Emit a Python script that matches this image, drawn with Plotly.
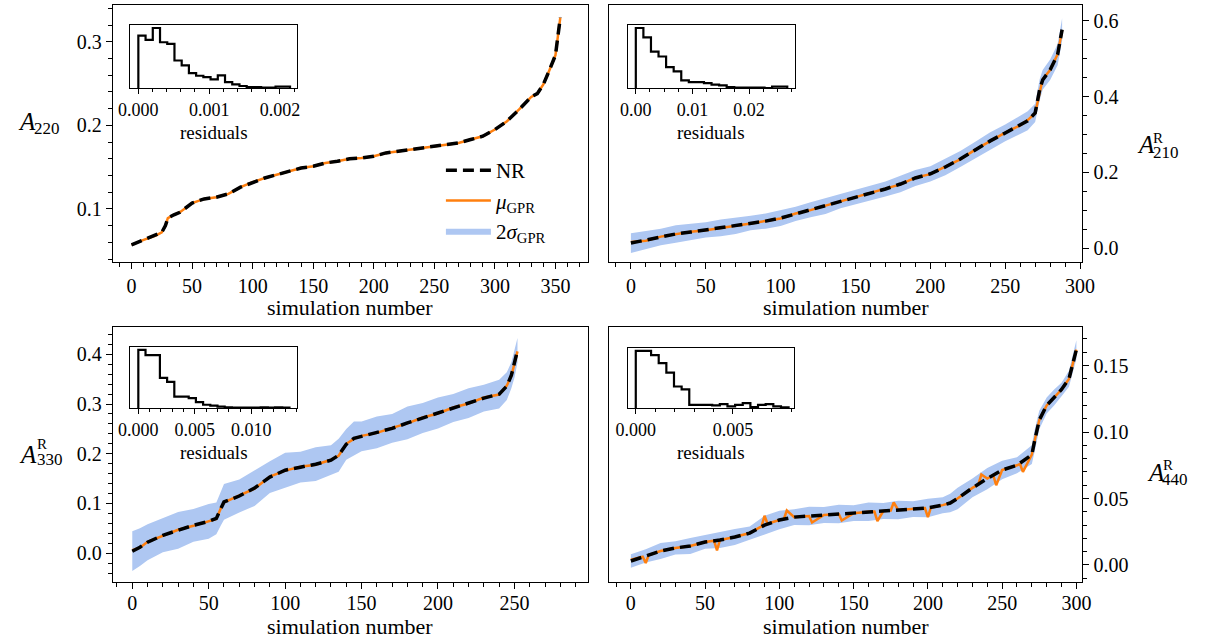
import plotly.graph_objects as go

# ---------------- data ----------------
# A_220
n_220 = [0, 10, 20, 25, 28, 30, 35, 40,
         50, 60, 70, 80, 90, 100, 110, 120, 130, 140, 150, 160, 170, 180, 190, 200,
         210, 220, 230, 240, 250, 260, 270, 280, 290, 300,
         310, 320, 325, 330, 335, 340, 345, 350, 354]
nr_220 = [0.057, 0.063, 0.068, 0.072, 0.080, 0.089, 0.093, 0.096,
          0.107, 0.112, 0.114, 0.118, 0.126, 0.132, 0.137, 0.141, 0.145, 0.149,
          0.151, 0.155, 0.157, 0.160, 0.161, 0.163, 0.167, 0.169, 0.171, 0.173,
          0.175, 0.177, 0.179, 0.183, 0.187, 0.195,
          0.205, 0.219, 0.226, 0.234, 0.238, 0.249, 0.266, 0.284, 0.329]
mu_220 = nr_220
sig_220 = [0.0015, 0.0012, 0.0012, 0.0013, 0.0015, 0.0014, 0.0012, 0.0011,
           0.0010, 0.0009, 0.0009, 0.0010, 0.0009, 0.0008, 0.0008, 0.0008, 0.0007, 0.0007,
           0.0007, 0.0007, 0.0007, 0.0007, 0.0007, 0.0007, 0.0007, 0.0007, 0.0007, 0.0008,
           0.0008, 0.0008, 0.0008, 0.0008, 0.0009, 0.0009,
           0.0010, 0.0011, 0.0011, 0.0012, 0.0012, 0.0013, 0.0015, 0.0017, 0.0025]

# A_210^R
n_210 = [0, 10, 20, 30, 40, 50, 60, 70, 80, 90, 100, 110, 120, 130, 140, 150, 160,
         170, 180, 190, 200, 210, 220, 230, 240, 250, 260, 265, 270, 273, 275, 280, 285, 288]
nr_210 = [0.013, 0.021, 0.029, 0.037, 0.042, 0.048, 0.053, 0.058, 0.066, 0.071,
          0.079, 0.090, 0.101, 0.111, 0.124, 0.135, 0.146, 0.156, 0.169, 0.185,
          0.196, 0.214, 0.235, 0.259, 0.283, 0.304, 0.325, 0.336, 0.357, 0.418,
          0.444, 0.471, 0.511, 0.577]
mu_210 = [0.016, 0.019, 0.030, 0.036, 0.043, 0.047, 0.054, 0.059, 0.065, 0.072,
          0.078, 0.091, 0.100, 0.112, 0.123, 0.136, 0.145, 0.157, 0.168, 0.186,
          0.195, 0.215, 0.234, 0.260, 0.282, 0.305, 0.324, 0.338, 0.356, 0.415,
          0.446, 0.470, 0.512, 0.575]
sig_210 = [0.026, 0.024, 0.022, 0.023, 0.021, 0.020, 0.022, 0.021, 0.019, 0.020,
           0.021, 0.019, 0.020, 0.021, 0.019, 0.020, 0.021, 0.020, 0.022, 0.021,
           0.020, 0.022, 0.021, 0.022, 0.023, 0.022, 0.024, 0.025, 0.024, 0.028,
           0.026, 0.027, 0.028, 0.030]

# A_330^R
n_330 = [0, 5, 10, 20, 30, 40, 50, 55, 58, 60, 70, 80, 90, 100, 110, 120, 130,
         135, 140, 145, 150, 160, 170, 180, 190, 200, 210, 220, 230, 240, 245, 248, 250, 252]
nr_330 = [0.004, 0.012, 0.022, 0.036, 0.046, 0.056, 0.064, 0.070, 0.090, 0.103,
          0.115, 0.131, 0.153, 0.167, 0.173, 0.179, 0.187,
          0.197, 0.219, 0.231, 0.235,
          0.243, 0.251, 0.262, 0.272, 0.282, 0.292, 0.302, 0.312, 0.320,
          0.336, 0.358, 0.380, 0.408]
mu_330 = [0.006, 0.011, 0.023, 0.035, 0.047, 0.055, 0.065, 0.069, 0.091, 0.102,
          0.116, 0.130, 0.154, 0.166, 0.174, 0.178, 0.188, 0.196, 0.220, 0.230,
          0.236, 0.242, 0.252, 0.261, 0.273, 0.281, 0.293, 0.301, 0.313, 0.319,
          0.337, 0.357, 0.381, 0.406]
sig_330 = [0.040, 0.038, 0.036, 0.034, 0.037, 0.033, 0.035, 0.032, 0.034, 0.036,
           0.033, 0.036, 0.032, 0.035, 0.031, 0.034, 0.030, 0.033, 0.031, 0.034,
           0.030, 0.032, 0.029, 0.033, 0.030, 0.031, 0.028, 0.030, 0.027, 0.029,
           0.028, 0.026, 0.027, 0.025]

# A_440^R
n_440 = [0, 10, 20, 30, 40, 50, 60, 70, 80, 90, 100, 110, 120, 130, 140, 150, 160,
         170, 180, 190, 200, 210, 215, 220, 230, 240, 250, 260, 270,
         272, 275, 280, 285, 290, 295, 300]
nr_440 = [0.003, 0.0068, 0.0105, 0.0128, 0.0143, 0.0173, 0.0188, 0.021, 0.024, 0.030,
          0.0338, 0.036, 0.0368, 0.0376, 0.0383, 0.039, 0.040, 0.0406, 0.0414, 0.042,
          0.0429, 0.045,
          0.0466, 0.050, 0.058, 0.065, 0.0714, 0.075, 0.083,
          0.094, 0.109, 0.120, 0.126, 0.132, 0.140, 0.162]
sig_440 = [0.005, 0.005, 0.006, 0.005, 0.006, 0.005, 0.006, 0.006, 0.005, 0.007,
           0.007, 0.006, 0.007, 0.006, 0.007, 0.006, 0.007, 0.006, 0.007, 0.006,
           0.007, 0.006,
           0.007, 0.008, 0.007, 0.008, 0.007, 0.006, 0.007,
           0.008, 0.007, 0.006, 0.006, 0.005, 0.006, 0.007]
mu_n_440 = [0, 8, 10, 12, 20, 30, 40, 50, 56, 58,
            60, 70, 80, 88, 90, 92, 100, 103, 105, 110,
            120, 122, 130, 140, 142, 150, 160, 164, 166, 170,
            175, 177, 180, 190, 198, 200, 202, 210, 215, 220,
            230, 234, 236, 240, 244, 246, 250, 260, 262, 264,
            270, 272, 275, 280, 285, 290, 295, 300]
mu_440 = [0.004, 0.0062, 0.0015, 0.0075, 0.0105, 0.0128, 0.0143, 0.0173, 0.0183, 0.0110,
          0.0188, 0.021, 0.024, 0.029, 0.037, 0.031, 0.0338, 0.0345, 0.041, 0.036,
          0.0368, 0.0320, 0.0376, 0.0383, 0.0335, 0.039, 0.040, 0.0402, 0.0330, 0.0406,
          0.0410, 0.0470, 0.0414, 0.042, 0.0428, 0.0360, 0.0431, 0.045, 0.0466, 0.050,
          0.058, 0.0605, 0.0680, 0.065, 0.0675, 0.0600, 0.0714, 0.075, 0.0760, 0.0700,
          0.083, 0.094, 0.109, 0.120, 0.126, 0.132, 0.140, 0.162]

# residual histograms (step outlines)
hist_220 = [158, 145, 181, 138, 133, 83, 68, 45, 37, 33, 26, 38, 18, 11, 6, 3, 3, 1, 1, 4, 4]
binw_220 = 0.000102
hist_210 = [181, 153, 110, 95, 63, 50, 23, 18, 18, 15, 10, 8, 3, 1, 1, 1, 1, 0, 4, 4]
binw_210 = 0.001338
hist_330 = [178, 162, 162, 92, 80, 35, 35, 30, 18, 10, 7, 4, 2, 1, 1, 1, 1, 2, 1, 2, 1]
binw_330 = 0.000637
hist_440 = [178, 178, 165, 140, 110, 67, 58, 10, 10, 10, 8, 12, 5, 10, 15, 3, 10, 12, 5, 2]
binw_440 = 0.000393

# ---------------- figure ----------------
W, H = 1205, 639
FONT = "Liberation Serif, DejaVu Serif, serif"
BAND = "rgb(174,199,242)"
ORANGE = "#ff7f0e"


def fx(p):
    return p / W


def fy(p):
    return 1 - p / H


fig = go.Figure()

panels = [
    ("x", "y", n_220, nr_220, n_220, mu_220, sig_220, True),
    ("x2", "y2", n_210, nr_210, n_210, mu_210, sig_210, False),
    ("x3", "y3", n_330, nr_330, n_330, mu_330, sig_330, False),
    ("x4", "y4", n_440, nr_440, mu_n_440, mu_440, sig_440, False),
]
for xa, ya, n, nr, mun, mu, sig, sl in panels:
    lo = [a - s for a, s in zip(nr, sig)]
    hi = [a + s for a, s in zip(nr, sig)]
    fig.add_trace(go.Scatter(x=n, y=lo, mode="lines", line=dict(width=0, color=BAND),
                             showlegend=False, hoverinfo="skip", xaxis=xa, yaxis=ya))
    fig.add_trace(go.Scatter(x=n, y=hi, mode="lines", line=dict(width=0, color=BAND),
                             fill="tonexty", fillcolor=BAND, name="2<i>σ</i><sub>GPR</sub>",
                             showlegend=sl, legendrank=3, xaxis=xa, yaxis=ya))
    fig.add_trace(go.Scatter(x=mun, y=mu, mode="lines", line=dict(width=2.5, color=ORANGE),
                             name="<i>μ</i><sub>GPR</sub>", showlegend=sl, legendrank=2,
                             xaxis=xa, yaxis=ya))
    fig.add_trace(go.Scatter(x=n, y=nr, mode="lines",
                             line=dict(width=3.5, color="black", dash="11px,6px"),
                             name="NR", showlegend=sl, legendrank=1, xaxis=xa, yaxis=ya))

insets = [("x5", "y5", hist_220, binw_220), ("x6", "y6", hist_210, binw_210),
          ("x7", "y7", hist_330, binw_330), ("x8", "y8", hist_440, binw_440)]
for xa, ya, h, w in insets:
    edges = [w * i for i in range(len(h) + 1)]
    xs = [edges[0]] + edges[:-1] + [edges[-1]]
    ys = [0] + h + [0]
    fig.add_trace(go.Scatter(x=xs, y=ys, mode="lines", line=dict(color="black", width=2.2, shape="hv"),
                             showlegend=False, hoverinfo="skip", xaxis=xa, yaxis=ya))

tick_font = dict(family=FONT, size=20, color="black")
base = dict(showline=True, mirror=True, linecolor="black", linewidth=1.2, ticks="outside",
            ticklen=6, tickwidth=1.1, tickcolor="black", showgrid=False, zeroline=False,
            tickfont=tick_font)

top_y = [fy(262), fy(5)]
bot_y = [fy(582), fy(327)]
left_x = [fx(103), fx(588)]
right_x = [fx(610), fx(1093)]

fig.update_layout(
    xaxis=dict(base, domain=left_x, anchor="y", range=[-15.4, 376.7], dtick=50,
               minor=dict(ticks="outside", ticklen=3.5, dtick=10, tickcolor="black")),
    yaxis=dict(base, domain=top_y, anchor="x", range=[0.0365, 0.344], dtick=0.1, tickformat=".1f",
               minor=dict(ticks="outside", ticklen=3.5, dtick=0.02, tickcolor="black")),
    xaxis2=dict(base, domain=right_x, anchor="y2", range=[-14.4, 301.5], dtick=50,
                minor=dict(ticks="outside", ticklen=3.5, dtick=10, tickcolor="black")),
    yaxis2=dict(base, domain=top_y, anchor="x2", side="right", range=[-0.037, 0.642], dtick=0.2,
                tickformat=".1f",
                minor=dict(ticks="outside", ticklen=3.5, dtick=0.05, tickcolor="black")),
    xaxis3=dict(base, domain=left_x, anchor="y3", range=[-12.7, 298], dtick=50, ticklabelstandoff=-3,
                minor=dict(ticks="outside", ticklen=3.5, dtick=10, tickcolor="black")),
    yaxis3=dict(base, domain=bot_y, anchor="x3", range=[-0.058, 0.455], dtick=0.1, tickformat=".1f",
                minor=dict(ticks="outside", ticklen=3.5, dtick=0.02, tickcolor="black")),
    xaxis4=dict(base, domain=right_x, anchor="y4", range=[-14.5, 304], dtick=50, ticklabelstandoff=-3,
                minor=dict(ticks="outside", ticklen=3.5, dtick=10, tickcolor="black")),
    yaxis4=dict(base, domain=bot_y, anchor="x4", side="right", range=[-0.0128, 0.179], dtick=0.05,
                tickformat=".2f",
                minor=dict(ticks="outside", ticklen=3.5, dtick=0.01, tickcolor="black")),
)

inset_font = dict(family=FONT, size=18, color="black")
ibase = dict(showline=True, mirror=True, linecolor="black", linewidth=1.2, showgrid=False,
             zeroline=False)
inset_specs = [
    ("xaxis5", "yaxis5", [fx(121), fx(291)], [fy(88), fy(25)], [-0.000111, 0.00224], 0.001, 0.0002, ".3f", hist_220),
    ("xaxis6", "yaxis6", [fx(629), fx(800)], [fy(88), fy(25)], [-0.00139, 0.0282], 0.01, 0.0025, ".2f", hist_210),
    ("xaxis7", "yaxis7", [fx(121), fx(291)], [fy(408), fy(347)], [-0.000693, 0.01404], 0.005, 0.001, ".3f", hist_330),
    ("xaxis8", "yaxis8", [fx(629), fx(799)], [fy(408), fy(348)], [-0.000403, 0.00816], 0.005, 0.001, ".3f", hist_440),
]
for i, (xk, yk, dx, dy, rng, dt, mdt, fmt, h) in enumerate(inset_specs):
    k = i + 5
    fig.update_layout({
        xk: dict(ibase, domain=dx, anchor=f"y{k}", range=rng, dtick=dt, tick0=0, tickformat=fmt,
                 ticks="outside", ticklen=5, tickwidth=1.1, tickcolor="black", tickfont=inset_font,
                 minor=dict(ticks="outside", ticklen=3, dtick=mdt, tick0=0, tickcolor="black")),
        yk: dict(ibase, domain=dy, anchor=f"x{k}", range=[0, max(h) * 1.05], showticklabels=False,
                 ticks=""),
    })

ann = []
title_font = dict(family=FONT, size=22, color="black")
for cx, cy in [((103 + 588) / 2, 307), ((610 + 1093) / 2, 307), ((103 + 588) / 2, 626.5), ((610 + 1093) / 2, 626.5)]:
    ann.append(dict(text="simulation number", x=fx(cx), y=fy(cy), xref="paper", yref="paper",
                    showarrow=False, font=title_font, xanchor="center", yanchor="middle"))
for cx, cy in [(206, 132), (714, 132), (206, 452), (714, 452)]:
    ann.append(dict(text="residuals", x=fx(cx), y=fy(cy), xref="paper", yref="paper",
                    showarrow=False, font=dict(family=FONT, size=19, color="black"),
                    xanchor="center", yanchor="middle"))

# y labels: A, subscript, optional superscript R
ylabels = [
    ((15, 121), (36, 128), "220", None),
    ((1158, 144), (1178, 152), "210", (1170, 138)),
    ((16, 455), (39, 459), "330", (31, 444)),
    ((1168, 472), (1188, 479), "440", (1181, 465)),
]
for (ax_, ay_), (sx, sy), sub, sup in ylabels:
    ann.append(dict(text="<i>A</i>", x=fx(ax_), y=fy(ay_), xref="paper", yref="paper", showarrow=False,
                    font=dict(family=FONT, size=25, color="black"), xanchor="center", yanchor="middle"))
    ann.append(dict(text=sub, x=fx(sx), y=fy(sy), xref="paper", yref="paper", showarrow=False,
                    font=dict(family=FONT, size=17, color="black"), xanchor="center", yanchor="middle"))
    if sup:
        ann.append(dict(text="R", x=fx(sup[0]), y=fy(sup[1]), xref="paper", yref="paper", showarrow=False,
                        font=dict(family=FONT, size=15, color="black"), xanchor="center", yanchor="middle"))

fig.update_layout(
    width=W, height=H, margin=dict(l=0, r=0, t=0, b=0),
    paper_bgcolor="white", plot_bgcolor="white",
    font=dict(family=FONT, size=20, color="black"),
    annotations=ann,
    legend=dict(x=fx(438), y=fy(150), xanchor="left", yanchor="top", bgcolor="rgba(0,0,0,0)",
                font=dict(family=FONT, size=21, color="black"), itemwidth=45, tracegroupgap=0,
                traceorder="normal"),
    showlegend=True,
)

fig.write_html("out.html")
